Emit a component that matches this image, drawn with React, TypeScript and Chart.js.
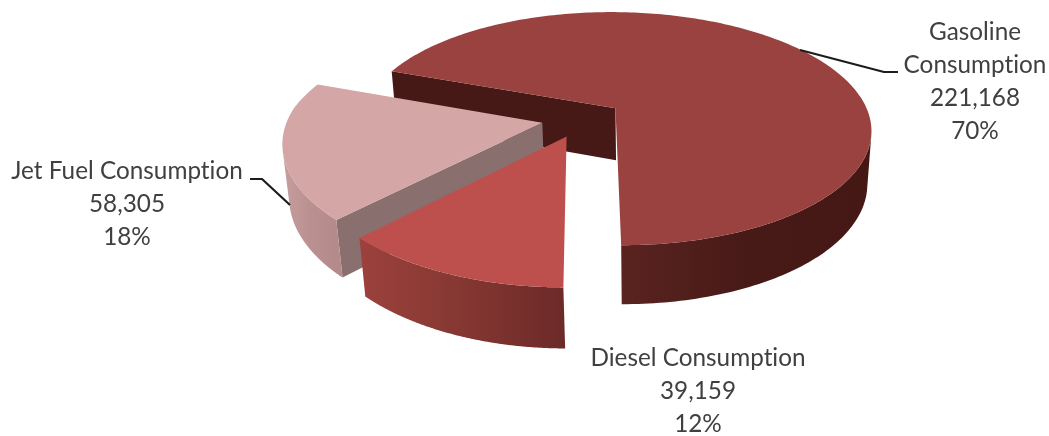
import React, { useEffect, useRef } from "react";
import { Chart, registerables } from "chart.js";

Chart.register(...registerables);

// Fuel consumption shares
const categories = [["Gasoline", "Consumption"], ["Diesel Consumption"], ["Jet Fuel Consumption"]];
const consumption = [221168, 39159, 58305];
const percentLabels = ["70%", "12%", "18%"];

// Slice palette
const topColors = ["#9a4240", "#bd4f4c", "#d4a6a6"];
const cutFaceColors = ["#461916", "#7a2e2b", "#8a6f6f"];
const rimColors = [
  ["#5a2320", "#471a17", "#451815"],
  ["#9c413d", "#853732", "#6c2a28"],
  ["#c69e9e", "#bb9090", "#b48a8a"],
];
// Back-to-front paint order
const paintOrder = [0, 2, 1];

// Label placement: centre x and centre y of the first line
const labelAnchors = [
  { x: 975, y: 32 },
  { x: 698, y: 358 },
  { x: 127, y: 171 },
];
const leaderLines: number[][][] = [
  [[800, 50], [884, 72], [898, 72]],
  [],
  [[250, 179], [262, 179], [290, 205]],
];

type Pt = { x: number; y: number; w: number };

// Maps unit-circle plane coordinates onto the tilted, receding view of the pie
function project(u: number, v: number): Pt {
  const du = u - 0.13;
  const dv = v + 0.093;
  const w = 1 - 0.176 * dv;
  const skew = 5 * dv - 7 * Math.min(du, 0) * Math.max(dv, 0);
  return { x: 615 + (251 * du + skew) / w, y: 108 + (112.9 * dv) / w, w };
}

function lower(p: Pt) {
  const d = 52 / Math.pow(p.w, 0.65);
  return { x: p.x + ((620 - p.x) * 0.018 + 0.5) * (d / 52), y: p.y + d };
}

function wallCross(a: Pt, b: Pt) {
  const la = lower(a);
  return (b.x - a.x) * (la.y - a.y) - (b.y - a.y) * (la.x - a.x);
}

function fillWall(ctx: CanvasRenderingContext2D, run: Pt[], fill: any) {
  ctx.beginPath();
  run.forEach((p, k) => (k ? ctx.lineTo(p.x, p.y) : ctx.moveTo(p.x, p.y)));
  [...run].reverse().forEach((p) => {
    const l = lower(p);
    ctx.lineTo(l.x, l.y);
  });
  ctx.closePath();
  ctx.fillStyle = fill;
  ctx.fill();
}

const pie3d = {
  id: "pie3d",
  beforeDatasetsDraw(chart: any) {
    const { ctx } = chart;
    const arcs = chart.getDatasetMeta(0).data;
    for (const i of paintOrder) {
      const el = arcs[i];
      const R = el.outerRadius;
      const mid = (el.startAngle + el.endAngle) / 2;
      const off = el.options.offset / 4 / R;
      const ax = Math.cos(mid) * off;
      const ay = Math.sin(mid) * off;
      const n = 240;
      const rim: Pt[] = [];
      for (let k = 0; k <= n; k++) {
        const a = el.startAngle + ((el.endAngle - el.startAngle) * k) / n;
        rim.push(project(ax + Math.cos(a), ay + Math.sin(a)));
      }
      const apex = project(ax, ay);

      // Group the visible stretch of the curved edge into connected runs
      const runs: Pt[][] = [];
      let current: Pt[] | null = null;
      for (let k = 0; k < n; k++) {
        if (wallCross(rim[k], rim[k + 1]) < 0) {
          if (!current) {
            current = [rim[k]];
            runs.push(current);
          }
          current.push(rim[k + 1]);
        } else current = null;
      }
      const xs = runs.flat().map((p) => p.x);
      const grad = ctx.createLinearGradient(Math.min(...xs), 0, Math.max(...xs), 0);
      rimColors[i].forEach((c, k) => grad.addColorStop(k / 2, c));

      // Straight cut faces seen nearly edge-on are left out
      if (wallCross(apex, rim[0]) < -2000) fillWall(ctx, [apex, rim[0]], cutFaceColors[i]);
      if (wallCross(rim[n], apex) < -2000) fillWall(ctx, [rim[n], apex], cutFaceColors[i]);
      runs.forEach((run) => fillWall(ctx, run, grad));

      ctx.beginPath();
      ctx.moveTo(apex.x, apex.y);
      rim.forEach((p) => ctx.lineTo(p.x, p.y));
      ctx.closePath();
      ctx.fillStyle = el.options.backgroundColor;
      ctx.fill();
    }
    return false;
  },
  afterDraw(chart: any) {
    const { ctx } = chart;
    ctx.strokeStyle = "#1c1c1c";
    ctx.lineWidth = 2.2;
    ctx.lineJoin = "round";
    leaderLines.forEach((line) => {
      if (!line.length) return;
      ctx.beginPath();
      line.forEach(([x, y], k) => (k ? ctx.lineTo(x, y) : ctx.moveTo(x, y)));
      ctx.stroke();
    });
    ctx.fillStyle = "#404040";
    ctx.font = '24.3px Lato, "Open Sans", sans-serif';
    ctx.letterSpacing = "0.01px";
    ctx.textAlign = "center";
    ctx.textBaseline = "middle";
    categories.forEach((name, i) => {
      const lines = [...name, consumption[i].toLocaleString("en-US"), percentLabels[i]];
      lines.forEach((t, k) => ctx.fillText(t, labelAnchors[i].x, labelAnchors[i].y + k * 33));
    });
  },
};

export default function App() {
  const ref = useRef<HTMLCanvasElement>(null);
  useEffect(() => {
    const chart = new Chart(ref.current!, {
      type: "pie",
      data: {
        labels: categories.map((c) => c.join(" ")),
        datasets: [{ data: consumption, backgroundColor: topColors, borderWidth: 0, offset: 106 }],
      },
      options: {
        animation: false,
        responsive: false,
        rotation: -69.8,
        layout: { padding: 0 },
        plugins: { legend: { display: false }, tooltip: { enabled: false } },
      },
      plugins: [pie3d],
    } as any);
    return () => chart.destroy();
  }, []);
  return (
    <div style={{ position: "absolute", left: 0, top: 0, width: 1049, height: 436, background: "#fff" }}>
      <canvas ref={ref} width={1049} height={436} style={{ display: "block" }} />
    </div>
  );
}
